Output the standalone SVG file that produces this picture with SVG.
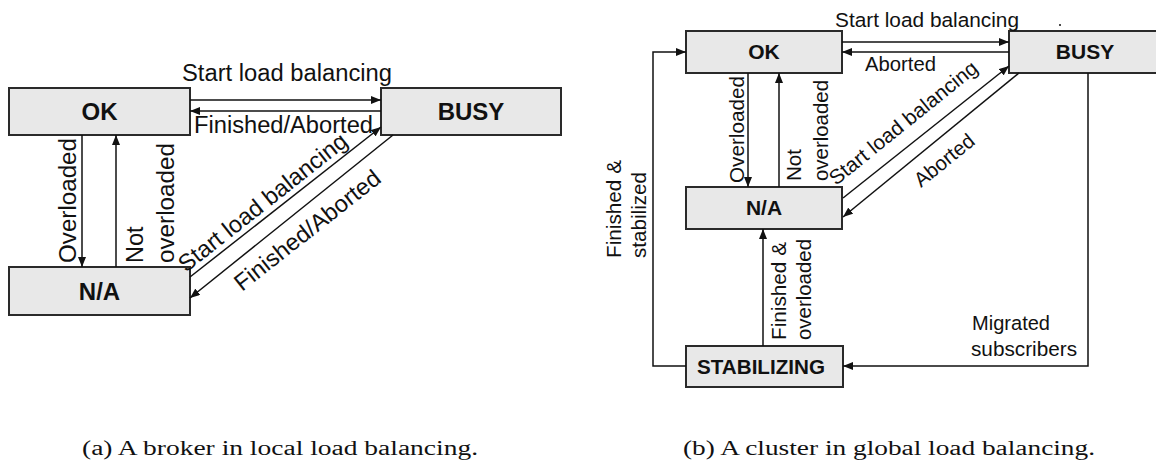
<svg xmlns="http://www.w3.org/2000/svg" width="1156" height="461" viewBox="0 0 1156 461">
  <defs>
    <style>
      .box { fill: #e8e8e8; stroke: #2a2a2a; stroke-width: 2; }
      .edge { fill: none; stroke: #111; stroke-width: 1.5; }
      .state-a { font-family: "Liberation Sans", Arial, sans-serif; font-weight: bold; font-size: 24px; fill: #111; text-anchor: middle; }
      .state-b { font-family: "Liberation Sans", Arial, sans-serif; font-weight: bold; font-size: 21px; fill: #111; text-anchor: middle; }
      .lbl-a { font-family: "Liberation Sans", Arial, sans-serif; font-size: 23.5px; fill: #111; }
      .lbl-b { font-family: "Liberation Sans", Arial, sans-serif; font-size: 20.5px; fill: #111; }
      .caption { font-family: "Liberation Serif", "DejaVu Serif", serif; font-size: 20px; fill: #111; }
    </style>
    <marker id="arrow" viewBox="0 0 10 8" refX="10" refY="4" markerWidth="10" markerHeight="8" markerUnits="userSpaceOnUse" orient="auto">
      <path d="M0,0 L10,4 L0,8 Z" fill="#111"/>
    </marker>
  </defs>

  <!-- (a) local load balancing: broker states -->
  <g id="a-ok">
    <rect class="box" x="9" y="88" width="181" height="47"/>
    <text class="state-a" x="99.5" y="120">OK</text>
  </g>
  <g id="a-busy">
    <rect class="box" x="381" y="88" width="180" height="47"/>
    <text class="state-a" x="471" y="120">BUSY</text>
  </g>
  <g id="a-na">
    <rect class="box" x="9" y="267" width="181" height="48"/>
    <text class="state-a" x="99.5" y="300">N/A</text>
  </g>

  <g id="a-connectors">
    <line class="edge" x1="190" y1="100" x2="381" y2="100" marker-end="url(#arrow)"/>
    <line class="edge" x1="381" y1="111" x2="190" y2="111" marker-end="url(#arrow)"/>
    <line class="edge" x1="82" y1="135" x2="82" y2="267" marker-end="url(#arrow)"/>
    <line class="edge" x1="116" y1="267" x2="116" y2="135" marker-end="url(#arrow)"/>
    <line class="edge" x1="190" y1="277" x2="381" y2="127" marker-end="url(#arrow)"/>
    <line class="edge" x1="393" y1="135" x2="190" y2="298" marker-end="url(#arrow)"/>
  </g>

  <g id="a-labels">
    <text class="lbl-a" x="182" y="81" textLength="210" lengthAdjust="spacingAndGlyphs">Start load balancing</text>
    <text class="lbl-a" x="194" y="133" textLength="179" lengthAdjust="spacingAndGlyphs">Finished/Aborted</text>
    <text class="lbl-a" transform="translate(76,263) rotate(-90)" textLength="125" lengthAdjust="spacingAndGlyphs">Overloaded</text>
    <text class="lbl-a" transform="translate(143,263) rotate(-90)">Not</text>
    <text class="lbl-a" transform="translate(174,263) rotate(-90)" textLength="120" lengthAdjust="spacingAndGlyphs">overloaded</text>
    <text class="lbl-a" transform="translate(186,273) rotate(-38.3)" textLength="208" lengthAdjust="spacingAndGlyphs">Start load balancing</text>
    <text class="lbl-a" transform="translate(242,292) rotate(-38.3)" textLength="179" lengthAdjust="spacingAndGlyphs">Finished/Aborted</text>
  </g>

  <!-- (b) global load balancing: cluster states -->
  <g id="b-ok">
    <rect class="box" x="686" y="31" width="156" height="42"/>
    <text class="state-b" x="764" y="59">OK</text>
  </g>
  <g id="b-busy">
    <rect class="box" x="1009" y="31" width="155" height="42"/>
    <text class="state-b" x="1085" y="59">BUSY</text>
  </g>
  <g id="b-na">
    <rect class="box" x="686" y="187" width="156" height="42"/>
    <text class="state-b" x="764" y="215">N/A</text>
  </g>
  <g id="b-stabilizing">
    <rect class="box" x="686" y="346" width="157" height="41"/>
    <text class="state-b" x="761" y="374" textLength="128" lengthAdjust="spacingAndGlyphs">STABILIZING</text>
  </g>

  <g id="b-connectors">
    <line class="edge" x1="842" y1="42" x2="1009" y2="42" marker-end="url(#arrow)"/>
    <line class="edge" x1="1009" y1="52" x2="842" y2="52" marker-end="url(#arrow)"/>
    <line class="edge" x1="748" y1="73" x2="748" y2="187" marker-end="url(#arrow)"/>
    <line class="edge" x1="779" y1="187" x2="779" y2="73" marker-end="url(#arrow)"/>
    <line class="edge" x1="843" y1="198" x2="1009" y2="66" marker-end="url(#arrow)"/>
    <line class="edge" x1="1019" y1="73" x2="843" y2="217" marker-end="url(#arrow)"/>
    <line class="edge" x1="763" y1="346" x2="763" y2="229" marker-end="url(#arrow)"/>
    <polyline class="edge" points="686,366 653,366 653,52 686,52" marker-end="url(#arrow)"/>
    <polyline class="edge" points="1088,73 1088,366 843,366" marker-end="url(#arrow)"/>
  </g>

  <g id="b-labels">
    <text class="lbl-b" x="835" y="27" textLength="184" lengthAdjust="spacingAndGlyphs">Start load balancing</text>
    <circle cx="1060" cy="25" r="1" fill="#111"/>
    <text class="lbl-b" x="865" y="71" textLength="71" lengthAdjust="spacingAndGlyphs">Aborted</text>
    <text class="lbl-b" transform="translate(744,183) rotate(-90)" textLength="107" lengthAdjust="spacingAndGlyphs">Overloaded</text>
    <text class="lbl-b" transform="translate(801,181) rotate(-90)">Not</text>
    <text class="lbl-b" transform="translate(828,181) rotate(-90)" textLength="101" lengthAdjust="spacingAndGlyphs">overloaded</text>
    <text class="lbl-b" transform="translate(621,258) rotate(-90)" textLength="98" lengthAdjust="spacingAndGlyphs">Finished &amp;</text>
    <text class="lbl-b" transform="translate(646,258) rotate(-90)" textLength="86" lengthAdjust="spacingAndGlyphs">stabilized</text>
    <text class="lbl-b" transform="translate(786,340) rotate(-90)" textLength="98" lengthAdjust="spacingAndGlyphs">Finished &amp;</text>
    <text class="lbl-b" transform="translate(811,340) rotate(-90)" textLength="101" lengthAdjust="spacingAndGlyphs">overloaded</text>
    <text class="lbl-b" transform="translate(836,186) rotate(-38.9)" textLength="184" lengthAdjust="spacingAndGlyphs">Start load balancing</text>
    <text class="lbl-b" transform="translate(921,188) rotate(-39)" textLength="71" lengthAdjust="spacingAndGlyphs">Aborted</text>
    <text class="lbl-b" x="972" y="330" textLength="78" lengthAdjust="spacingAndGlyphs">Migrated</text>
    <text class="lbl-b" x="971" y="356" textLength="106" lengthAdjust="spacingAndGlyphs">subscribers</text>
  </g>

  <g id="captions">
    <text class="caption" x="82" y="455" textLength="396" lengthAdjust="spacingAndGlyphs">(a) A broker in local load balancing.</text>
    <text class="caption" x="683" y="455" textLength="412" lengthAdjust="spacingAndGlyphs">(b) A cluster in global load balancing.</text>
  </g>
</svg>
